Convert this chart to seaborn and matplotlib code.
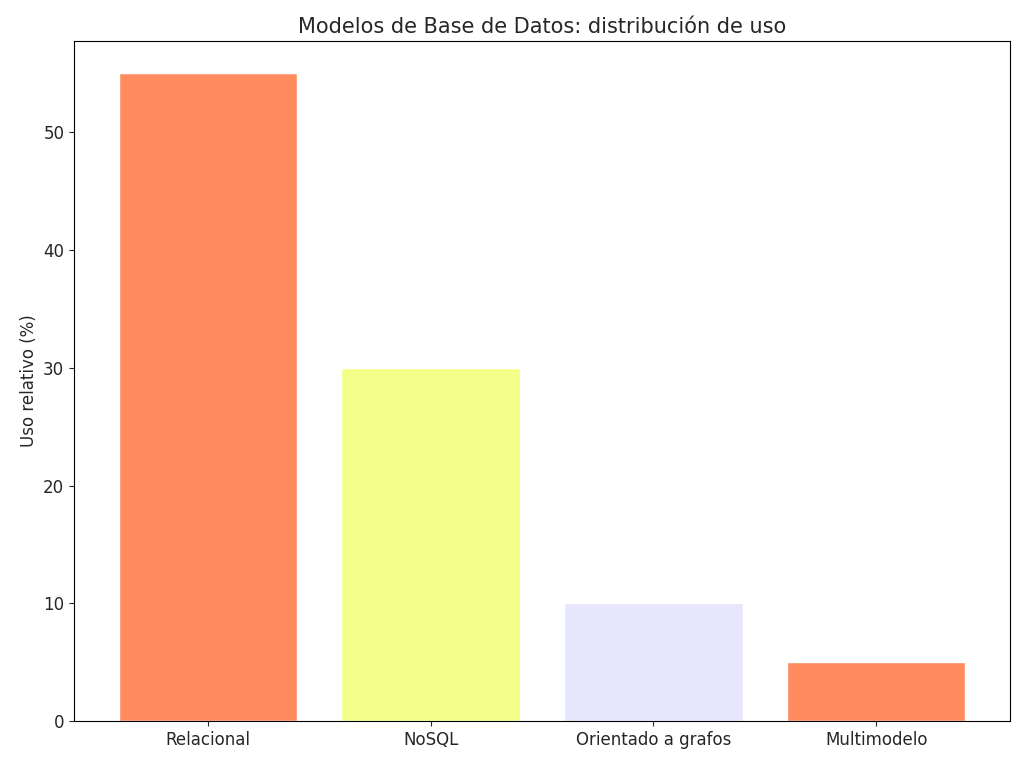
import matplotlib
matplotlib.use("Agg")
import matplotlib.pyplot as plt
import seaborn as sns
import pandas as pd

categories = ["Relacional", "NoSQL", "Orientado a grafos", "Multimodelo"]
values = [55, 30, 10, 5]
colors = ["#FF8C5E", "#F4FF8A", "#E6E6FC", "#FF8C5E"]

sns.set_style("ticks")
plt.rcParams['font.family'] = ['DejaVu Sans']
fig = plt.figure(figsize=(10.24, 7.65), dpi=100)
ax = fig.add_axes([74/1024, 1-721/765, 936/1024, 680/765])
df = pd.DataFrame({"cat": categories, "val": values})
sns.barplot(data=df, x="cat", y="val", hue="cat", palette=colors, legend=False,
            width=0.8, saturation=1, ax=ax)
ax.set_ylim(0, 57.75)
ax.set_xlim(-0.6, 3.6)
ax.set_xlabel("")
ax.set_ylabel("Uso relativo (%)", fontsize=12)
ax.set_title("Modelos de Base de Datos: distribución de uso", fontsize=15)
ax.tick_params(labelsize=12)
for s in ax.spines.values():
    s.set_visible(True)
    s.set_color("black")
fig.savefig("out.png", dpi=100)
